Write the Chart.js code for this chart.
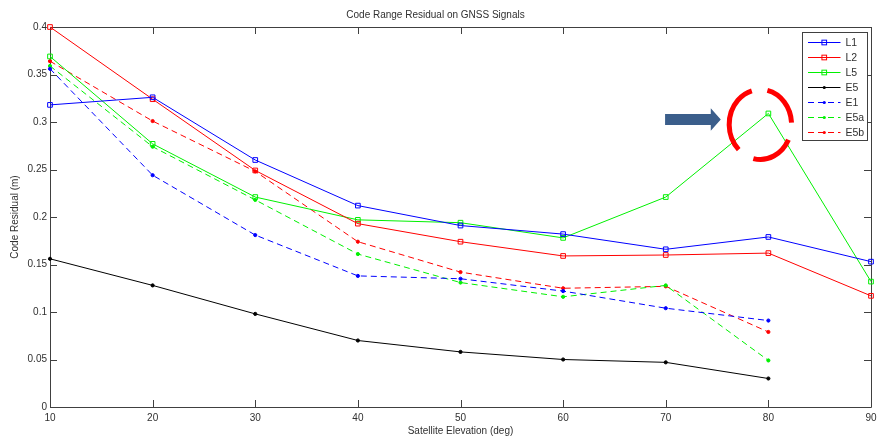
<!DOCTYPE html>
<html>
<head>
<meta charset="utf-8">
<script src="https://cdn.jsdelivr.net/npm/chart.js@4.4.0/dist/chart.umd.min.js"></script>
<style>
  html, body { margin: 0; padding: 0; background: #ffffff; }
  #wrap { width: 877px; height: 440px; }
</style>
</head>
<body>
<div id="wrap"><canvas id="chart" width="877" height="440"></canvas></div>
<script>
// Satellite elevation bins (deg)
const elevations = [10, 20, 30, 40, 50, 60, 70, 80, 90];

// GPS signals (square markers, solid lines)
const L1 = [0.318, 0.326, 0.260, 0.212, 0.191, 0.182, 0.166, 0.179, 0.153];
const L2 = [0.400, 0.324, 0.249, 0.193, 0.174, 0.159, 0.160, 0.162, 0.117];
const L5 = [0.369, 0.277, 0.221, 0.197, 0.194, 0.178, 0.221, 0.309, 0.132];

// Galileo signals (dot markers), 10..80 deg only
const E5  = [0.156, 0.128, 0.098, 0.070, 0.058, 0.050, 0.047, 0.030];
const E1  = [0.356, 0.244, 0.181, 0.138, 0.135, 0.122, 0.104, 0.091];
const E5a = [0.359, 0.274, 0.218, 0.161, 0.131, 0.116, 0.128, 0.049];
const E5b = [0.364, 0.301, 0.248, 0.174, 0.142, 0.125, 0.127, 0.079];

const xTicks = [10, 20, 30, 40, 50, 60, 70, 80, 90];
const yTicks = [0, 0.05, 0.1, 0.15, 0.2, 0.25, 0.3, 0.35, 0.4];

const FONT = "'Liberation Sans', Arial, Helvetica, sans-serif";
const TEXT = '#303030';
const FRAME = '#404040';

function pairs(values) {
  return values.map((v, i) => ({ x: elevations[i], y: v }));
}

function series(label, values, color, kind) {
  const square = kind === 'square';
  const dashed = kind === 'dashed';
  return {
    label,
    data: pairs(values),
    borderColor: color,
    borderWidth: 1,
    borderDash: dashed ? [6, 4] : [],
    pointStyle: square ? 'rect' : 'circle',
    pointRadius: square ? 3.3 : 1.6,
    pointHoverRadius: square ? 3.3 : 1.6,
    pointBorderColor: color,
    pointBorderWidth: 1,
    pointBackgroundColor: square ? 'rgba(0,0,0,0)' : color,
    tension: 0,
    fill: false,
    clip: false
  };
}

const datasets = [
  series('L1', L1, '#0000ff', 'square'),
  series('L2', L2, '#ff0000', 'square'),
  series('L5', L5, '#00f000', 'square'),
  series('E5', E5, '#000000', 'dot'),
  series('E1', E1, '#0000ff', 'dashed'),
  series('E5a', E5a, '#00f000', 'dashed'),
  series('E5b', E5b, '#ff0000', 'dashed')
];

// Box around the plot area with inward tick marks on all four sides
const framePlugin = {
  id: 'frame',
  beforeDatasetsDraw(chart) {
    const { ctx, chartArea: a, scales: { x, y } } = chart;
    const len = 7;
    ctx.save();
    ctx.strokeStyle = FRAME;
    ctx.lineWidth = 1;
    ctx.beginPath();
    ctx.rect(Math.round(a.left) + 0.5, Math.round(a.top) + 0.5,
             Math.round(a.right - a.left), Math.round(a.bottom - a.top));
    xTicks.forEach(v => {
      const px = Math.round(x.getPixelForValue(v)) + 0.5;
      ctx.moveTo(px, a.bottom); ctx.lineTo(px, a.bottom - len);
      ctx.moveTo(px, a.top); ctx.lineTo(px, a.top + len);
    });
    yTicks.forEach(v => {
      const py = Math.round(y.getPixelForValue(v)) + 0.5;
      ctx.moveTo(a.left, py); ctx.lineTo(a.left + len, py);
      ctx.moveTo(a.right, py); ctx.lineTo(a.right - len, py);
    });
    ctx.stroke();
    ctx.restore();
  }
};

// Highlight on the L5 value at 80 deg: broken red ring and a pointing arrow
const highlightPlugin = {
  id: 'highlight',
  afterDatasetsDraw(chart) {
    const { ctx, scales: { x, y } } = chart;
    const ax = x.getPixelForValue(elevations[7]);
    const ay = y.getPixelForValue(L5[7]);
    const cx = ax - 8, cy = ay + 11;
    const deg = Math.PI / 180;
    ctx.save();
    ctx.strokeStyle = '#ff0000';
    ctx.lineWidth = 5;
    ctx.lineCap = 'butt';
    [[134, 254], [-77, -3], [26, 103]].forEach(([s, e]) => {
      ctx.beginPath();
      ctx.ellipse(cx, cy, 31.2, 35, 0, s * deg, e * deg);
      ctx.stroke();
    });
    // arrow
    const tip = ax - 47.6, neck = ax - 57.6, tail = ax - 103.3, my = ay + 6.1;
    ctx.fillStyle = '#3b5e8b';
    ctx.beginPath();
    ctx.moveTo(tail, my - 5.5);
    ctx.lineTo(neck, my - 5.5);
    ctx.lineTo(neck, my - 11.2);
    ctx.lineTo(tip, my);
    ctx.lineTo(neck, my + 11.2);
    ctx.lineTo(neck, my + 5.5);
    ctx.lineTo(tail, my + 5.5);
    ctx.closePath();
    ctx.fill();
    ctx.restore();
  }
};

// Boxed legend in the upper-right corner: line sample with marker, then label
const legendPlugin = {
  id: 'boxLegend',
  afterDraw(chart) {
    const { ctx, chartArea: a } = chart;
    const boxL = Math.round(a.right) - 69 + 0.5;
    const boxT = Math.round(a.top) + 5 + 0.5;
    const boxW = 65, boxH = 108;
    const rowH = 15;
    ctx.save();
    ctx.fillStyle = '#ffffff';
    ctx.strokeStyle = FRAME;
    ctx.lineWidth = 1;
    ctx.fillRect(boxL, boxT, boxW, boxH);
    ctx.strokeRect(boxL, boxT, boxW, boxH);
    chart.data.datasets.forEach((ds, i) => {
      const yy = boxT + 9.5 + i * rowH;
      const x0 = boxL + 5.5, x1 = boxL + 38;
      ctx.strokeStyle = ds.borderColor;
      ctx.lineWidth = 1;
      ctx.setLineDash(ds.borderDash);
      ctx.beginPath();
      ctx.moveTo(x0, Math.round(yy) + 0.5);
      ctx.lineTo(x1, Math.round(yy) + 0.5);
      ctx.stroke();
      ctx.setLineDash([]);
      const mx = (x0 + x1) / 2, my = Math.round(yy) + 0.5;
      if (ds.pointStyle === 'rect') {
        const s = ds.pointRadius * Math.SQRT1_2;
        ctx.strokeRect(mx - s, my - s, 2 * s, 2 * s);
      } else {
        ctx.fillStyle = ds.pointBackgroundColor;
        ctx.beginPath();
        ctx.arc(mx, my, ds.pointRadius, 0, Math.PI * 2);
        ctx.fill();
      }
      ctx.fillStyle = TEXT;
      ctx.font = '10.5px ' + FONT;
      ctx.textAlign = 'left';
      ctx.textBaseline = 'middle';
      ctx.fillText(ds.label, boxL + 43, my + 0.5);
    });
    ctx.restore();
  }
};

new Chart(document.getElementById('chart'), {
  type: 'line',
  data: { datasets },
  options: {
    responsive: false,
    animation: false,
    devicePixelRatio: 1,
    layout: { padding: { left: 0, right: 6, top: 0, bottom: 0 } },
    plugins: {
      legend: { display: false },
      tooltip: { enabled: false },
      title: {
        display: true,
        text: 'Code Range Residual on GNSS Signals',
        color: TEXT,
        font: { family: FONT, size: 10, weight: 'normal', lineHeight: 1.2 },
        padding: { top: 9, bottom: 6 }
      }
    },
    scales: {
      x: {
        type: 'linear',
        min: 10,
        max: 90,
        afterBuildTicks(scale) { scale.ticks = xTicks.map(v => ({ value: v })); },
        afterFit(scale) {
          scale.height = 33;
          scale.paddingLeft = 0;
          scale.paddingRight = 0;
        },
        grid: { display: false, drawTicks: false },
        border: { display: false },
        ticks: {
          color: TEXT,
          padding: 5,
          maxRotation: 0,
          font: { family: FONT, size: 10 },
          callback: v => String(v)
        },
        title: {
          display: true,
          text: 'Satellite Elevation (deg)',
          color: TEXT,
          font: { family: FONT, size: 10, lineHeight: 1.2 },
          padding: { top: 0, bottom: 3 }
        }
      },
      y: {
        type: 'linear',
        min: 0,
        max: 0.4,
        afterBuildTicks(scale) { scale.ticks = yTicks.map(v => ({ value: v })); },
        afterFit(scale) {
          scale.width = 50;
          scale.paddingTop = 0;
          scale.paddingBottom = 0;
        },
        grid: { display: false, drawTicks: false },
        border: { display: false },
        ticks: {
          color: TEXT,
          padding: 3,
          font: { family: FONT, size: 10 },
          callback: v => String(Number(v.toFixed(2)))
        },
        title: {
          display: true,
          text: 'Code Residual (m)',
          color: TEXT,
          font: { family: FONT, size: 10, lineHeight: 1.2 },
          padding: { top: 9, bottom: 0 }
        }
      }
    }
  },
  plugins: [framePlugin, highlightPlugin, legendPlugin]
});
</script>
</body>
</html>
